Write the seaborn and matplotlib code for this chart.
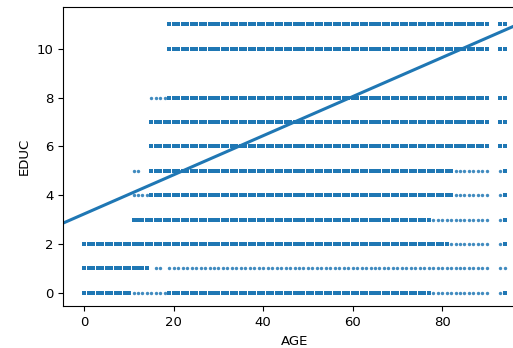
import pandas as pd
import matplotlib
matplotlib.use("Agg")
import matplotlib.pyplot as plt
import seaborn as sns

# age segments for each EDUC level: (first age, last age, people per age)
# count 1 = sparse ages, larger counts = dense ages
educ_levels = [0, 1, 2, 3, 4, 5, 6, 7, 8, 10, 11]
seg_educ0 = [(0, 10, 27), (11, 18, 1), (19, 77, 2), (78, 90, 1), (93, 93, 1), (94, 94, 2)]
seg_educ1 = [(0, 14, 27), (16, 17, 1), (19, 90, 1), (93, 94, 1)]
seg_educ2 = [(0, 18, 27), (19, 81, 3), (82, 90, 1), (93, 93, 1), (94, 94, 3)]
seg_educ3 = [(11, 77, 2), (78, 90, 1), (93, 93, 1), (94, 94, 2)]
seg_educ4 = [(11, 14, 1), (15, 82, 2), (83, 90, 1), (93, 93, 1), (94, 94, 2)]
seg_educ5 = [(11, 12, 1), (15, 82, 2), (83, 90, 1), (93, 93, 1), (94, 94, 2)]
seg_educ6 = [(15, 90, 4), (93, 94, 4)]
seg_educ7 = [(15, 90, 4), (93, 94, 4)]
seg_educ8 = [(15, 18, 1), (19, 90, 6), (93, 94, 6)]
seg_educ10 = [(19, 90, 14), (93, 94, 14)]
seg_educ11 = [(19, 90, 22), (93, 94, 22)]
all_segments = [seg_educ0, seg_educ1, seg_educ2, seg_educ3, seg_educ4, seg_educ5,
                seg_educ6, seg_educ7, seg_educ8, seg_educ10, seg_educ11]

rows = []
for level, segs in zip(educ_levels, all_segments):
    for a0, a1, n in segs:
        for age in range(a0, a1 + 1):
            rows.append((age, level, n))
df = pd.DataFrame(rows, columns=["AGE", "EDUC", "COUNT"])
# one row per person for the regression fit
people = df.loc[df.index.repeat(df["COUNT"])].reset_index(drop=True)

blue = "#1f77b4"
plt.rcParams["font.size"] = 9.5

fig = plt.figure(figsize=(5.13, 3.48), dpi=100)
ax = fig.add_axes([0.1234, 0.1198, 0.9014, 0.859])

dense = df[df["COUNT"] > 1]
sparse = df[df["COUNT"] == 1]
sns.scatterplot(data=dense, x="AGE", y="EDUC", marker="s", s=11, linewidth=0,
                color=blue, ax=ax)
sns.scatterplot(data=sparse, x="AGE", y="EDUC", marker="o", s=6, linewidth=0,
                color=blue, alpha=0.85, ax=ax)
sns.regplot(data=people, x="AGE", y="EDUC", scatter=False, ci=None, truncate=False,
            color=blue, line_kws={"lw": 2.2}, ax=ax)

ax.set_xticks([0, 20, 40, 60, 80])
ax.set_yticks([0, 2, 4, 6, 8, 10])
ax.set_xlabel("AGE")
ax.set_ylabel("EDUC")

fig.savefig("out.png", dpi=100)
